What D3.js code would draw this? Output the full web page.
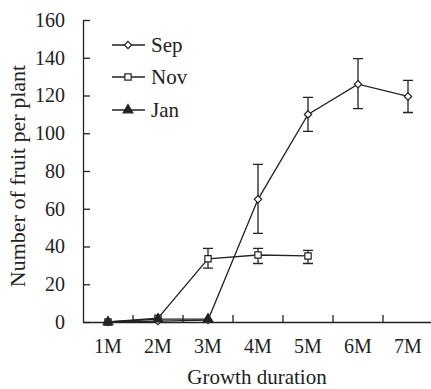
<!DOCTYPE html>
<html>
<head>
<meta charset="utf-8">
<script src="https://cdn.jsdelivr.net/npm/d3@7"></script>
<style>
  body { margin: 0; background: #fff; }
  svg { display: block; font-family: "Liberation Serif", "Times New Roman", serif; }
</style>
</head>
<body>
<svg id="chart"></svg>
<script>
  const months = ["1M", "2M", "3M", "4M", "5M", "6M", "7M"];
  const yTicks = [0, 20, 40, 60, 80, 100, 120, 140, 160];

  // mean, low end of error bar, high end of error bar (null = no bar)
  const sepMonths = ["1M", "2M", "3M", "4M", "5M", "6M", "7M"];
  const sepMean = [0, 0.5, 1, 65, 110, 126, 119.5];
  const sepLow = [null, null, null, 47, 101, 113, 111];
  const sepHigh = [null, null, null, 83.5, 119, 139.5, 128];

  const novMonths = ["1M", "2M", "3M", "4M", "5M"];
  const novMean = [0, 2, 33.5, 35.5, 35];
  const novLow = [null, null, 28.5, 31, 31];
  const novHigh = [null, null, 39, 39, 38];

  const janMonths = ["1M", "2M", "3M"];
  const janMean = [0, 1.5, 1.5];

  const width = 431;
  const height = 389;
  const ink = "#222";

  const svg = d3.select("#chart").attr("width", width).attr("height", height);

  const x = d3.scaleBand().domain(months).range([83, 433]).padding(0);
  const cx = (m) => x(m) + x.bandwidth() / 2;
  const y = d3.scaleLinear().domain([0, 160]).range([322, 20]);

  // y axis
  const yAxis = svg.append("g")
    .attr("transform", "translate(83,0)")
    .call(d3.axisLeft(y).tickValues(yTicks).tickSizeInner(-7).tickSizeOuter(0).tickPadding(18))
    .attr("font-family", null)
    .attr("font-size", 20);
  yAxis.select(".domain").attr("stroke", ink).attr("stroke-width", 1.3);
  yAxis.selectAll(".tick line").attr("stroke", ink).attr("stroke-width", 1.3);
  yAxis.selectAll("text").attr("fill", ink);

  // x axis: labels at band centres, tick marks at band edges
  const xAxis = svg.append("g")
    .attr("transform", "translate(0,322)")
    .call(d3.axisBottom(x).tickSize(0).tickPadding(17))
    .attr("font-family", null)
    .attr("font-size", 20);
  xAxis.select(".domain").attr("stroke", ink).attr("stroke-width", 1.3);
  xAxis.selectAll("text").attr("fill", ink);
  xAxis.selectAll(".edge")
    .data(months)
    .enter()
    .append("line")
    .attr("x1", (d) => x(d) + x.bandwidth())
    .attr("x2", (d) => x(d) + x.bandwidth())
    .attr("y1", 0)
    .attr("y2", -7)
    .attr("stroke", ink)
    .attr("stroke-width", 1.3);

  // axis titles
  svg.append("text")
    .attr("x", 257)
    .attr("y", 384)
    .attr("text-anchor", "middle")
    .attr("font-size", 21)
    .attr("fill", ink)
    .text("Growth duration");

  svg.append("text")
    .attr("transform", "rotate(-90)")
    .attr("x", -176)
    .attr("y", 25)
    .attr("text-anchor", "middle")
    .attr("font-size", 22)
    .attr("fill", ink)
    .text("Number of fruit per plant");

  const line = d3.line()
    .x((d) => cx(d.m))
    .y((d) => y(d.v));

  function build(ms, mean, low, high) {
    return ms.map((m, i) => ({
      m: m,
      v: mean[i],
      lo: low ? low[i] : null,
      hi: high ? high[i] : null
    }));
  }

  const diamond = d3.symbolDiamond2 || d3.symbolDiamond;
  const series = [
    { name: "Sep", shape: diamond, size: 34, fill: "#fff", data: build(sepMonths, sepMean, sepLow, sepHigh) },
    { name: "Nov", shape: d3.symbolSquare, size: 40, fill: "#fff", data: build(novMonths, novMean, novLow, novHigh) },
    { name: "Jan", shape: d3.symbolTriangle, size: 40, fill: ink, data: build(janMonths, janMean, null, null) }
  ];

  series.forEach((s) => {
    const g = svg.append("g");

    const bars = s.data.filter((d) => d.lo !== null);
    g.selectAll(".err")
      .data(bars)
      .enter()
      .append("path")
      .attr("d", (d) => {
        const px = cx(d.m);
        return `M${px},${y(d.lo)}V${y(d.hi)}M${px - 5},${y(d.lo)}H${px + 5}M${px - 5},${y(d.hi)}H${px + 5}`;
      })
      .attr("fill", "none")
      .attr("stroke", ink)
      .attr("stroke-width", 1.3);

    g.append("path")
      .datum(s.data)
      .attr("d", line)
      .attr("fill", "none")
      .attr("stroke", ink)
      .attr("stroke-width", 1.3);

    g.selectAll(".pt")
      .data(s.data)
      .enter()
      .append("path")
      .attr("transform", (d) => `translate(${cx(d.m)},${y(d.v)})`)
      .attr("d", d3.symbol().type(s.shape).size(s.size))
      .attr("fill", s.fill)
      .attr("stroke", ink)
      .attr("stroke-width", 1.2);
  });

  // legend
  const legend = svg.append("g");
  const rowY = [45, 77, 110];
  series.forEach((s, i) => {
    const r = legend.append("g").attr("transform", `translate(0,${rowY[i]})`);
    r.append("line")
      .attr("x1", 112).attr("x2", 145)
      .attr("stroke", ink).attr("stroke-width", 1.3);
    r.append("path")
      .attr("transform", "translate(128,0)")
      .attr("d", d3.symbol().type(s.shape).size(s.size))
      .attr("fill", s.fill)
      .attr("stroke", ink)
      .attr("stroke-width", 1.2);
    r.append("text")
      .attr("x", 151)
      .attr("dy", "0.35em")
      .attr("font-size", 21)
      .attr("fill", ink)
      .text(s.name);
  });
</script>
</body>
</html>
